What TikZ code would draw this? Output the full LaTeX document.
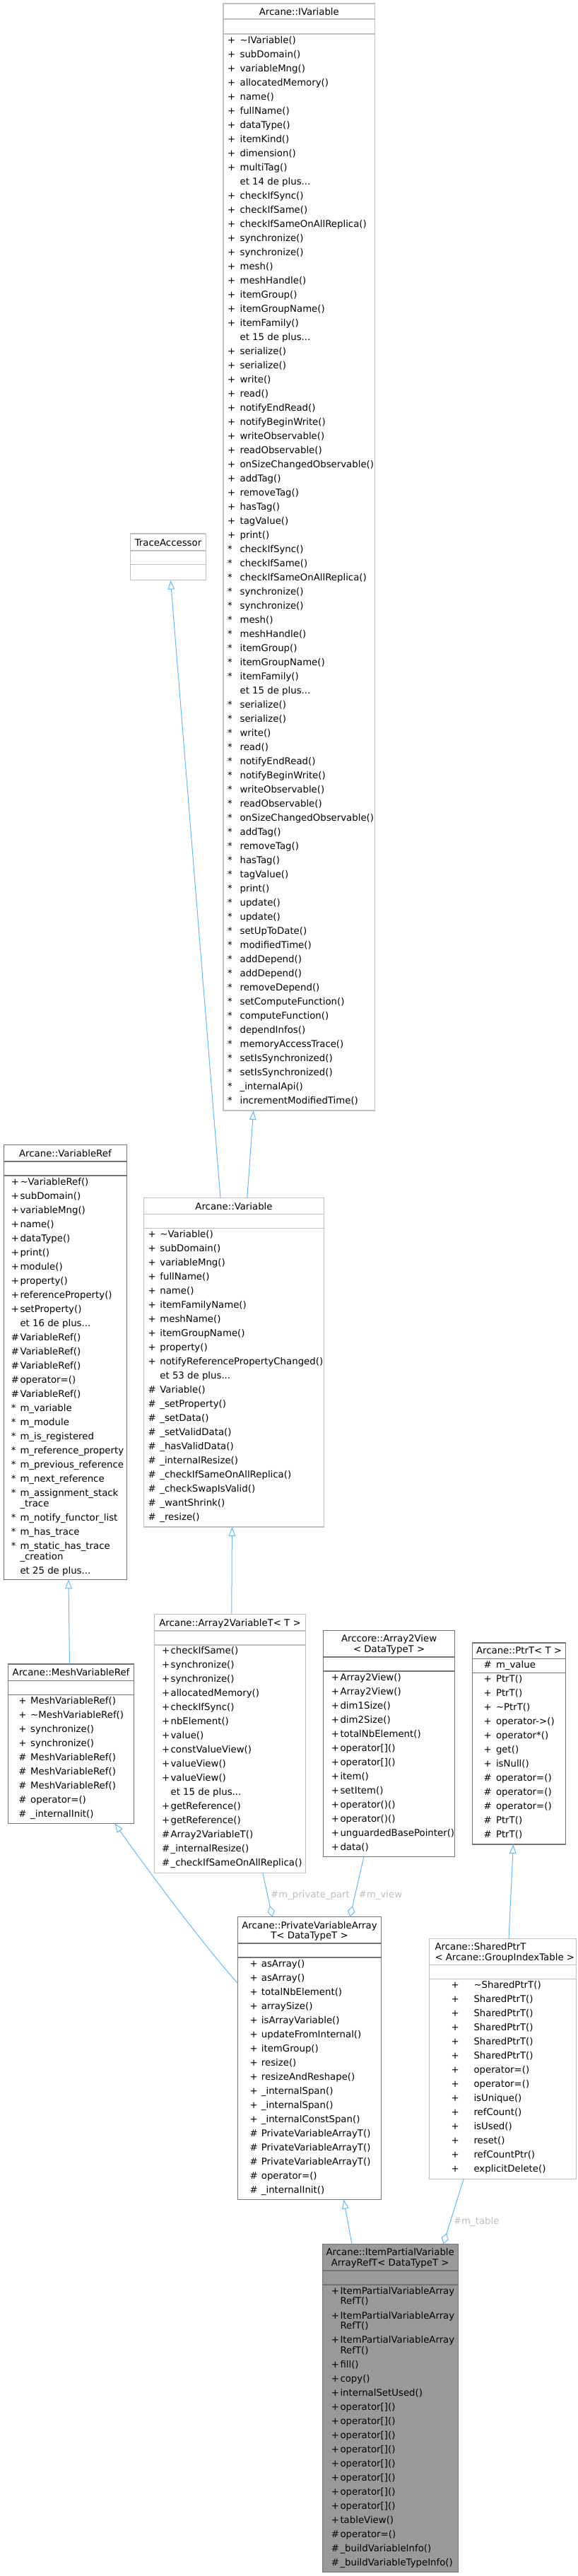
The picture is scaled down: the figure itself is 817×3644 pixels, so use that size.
\documentclass[tikz,border=0pt]{standalone}
\usepackage{fontspec}
\setmainfont{DejaVu Sans}
\usetikzlibrary{arrows.meta}
\definecolor{edgeblue}{HTML}{63B8FF}
\definecolor{darkb}{HTML}{737373}
\definecolor{lightb}{HTML}{BFBFBF}
\definecolor{hlfill}{HTML}{999999}
\definecolor{lblgray}{HTML}{BEBEBE}
\newcommand\rowfont{\fontsize{13.3}{16}\selectfont}
\newcommand\tdots{...}
\newcommand\rowlist[5]{%
  \foreach \sy/\tx [count=\i from 0] in {#5}{%
    \node[rowtxt] (#1-s\i) at (#2,{#4+4.6+\i*20}) {\sy};
    \node[rowtxt] (#1-t\i) at (#3,{#4+4.6+\i*20}) {\tx};
  }%
}
\newcommand\onerow[6]{%
  \node[rowtxt] (#1-s) at (#2,{#4+4.6}) {#5};
  \node[rowtxt] (#1-t) at (#3,{#4+4.6}) {#6};
}
\newcommand\sepl[4]{\draw[draw=#1, line width=1.1pt] (#2,#4) -- (#3,#4);}
\tikzset{
  boxd/.style={draw=darkb, fill=white, line width=1.1pt, anchor=north west, inner sep=0pt, outer sep=0pt},
  boxl/.style={boxd, draw=lightb},
  boxh/.style={boxd, fill=hlfill},
  rowtxt/.style={anchor=base west, inner sep=0pt, font=\rowfont, text=black},
  ttl/.style={anchor=base, inner sep=0pt, font=\rowfont, text=black},
  ttll/.style={anchor=base west, inner sep=0pt, font=\rowfont, text=black},
  inh/.style={draw=edgeblue, line width=1pt, -{Triangle[open, length=13pt, width=9.5pt]}},
  agg/.style={draw=edgeblue, line width=1pt, -{Diamond[open, length=16pt, width=10.5pt]}},
  elabel/.style={anchor=base, inner sep=0pt, font=\rowfont, text=lblgray},
}
\begin{document}
\begin{tikzpicture}[x=1pt,y=-1pt]
\useasboundingbox (0,0) rectangle (817,3644);
\fill[white] (0,0) rectangle (817,3644);

% ---------- Arcane::IVariable
\node[boxl, minimum width=214.5pt, minimum height=1566pt] (ivar) at (316,5) {};
\sepl{lightb}{316}{530.5}{27}
\sepl{lightb}{316}{530.5}{48}
\node[ttl] (ivar-title) at (423.3,21.3) {Arcane::IVariable};
\rowlist{ivar}{322}{339.4}{56.7}{+/\textasciitilde IVariable(), +/subDomain(), +/variableMng(), +/allocatedMemory(), +/name(), +/fullName(), +/dataType(), +/itemKind(), +/dimension(), +/multiTag(), /et 14 de plus\tdots, +/checkIfSync(), +/checkIfSame(), +/checkIfSameOnAllReplica(), +/synchronize(), +/synchronize(), +/mesh(), +/meshHandle(), +/itemGroup(), +/itemGroupName(), +/itemFamily(), /et 15 de plus\tdots, +/serialize(), +/serialize(), +/write(), +/read(), +/notifyEndRead(), +/notifyBeginWrite(), +/writeObservable(), +/readObservable(), +/onSizeChangedObservable(), +/addTag(), +/removeTag(), +/hasTag(), +/tagValue(), +/print(), */checkIfSync(), */checkIfSame(), */checkIfSameOnAllReplica(), */synchronize(), */synchronize(), */mesh(), */meshHandle(), */itemGroup(), */itemGroupName(), */itemFamily(), /et 15 de plus\tdots, */serialize(), */serialize(), */write(), */read(), */notifyEndRead(), */notifyBeginWrite(), */writeObservable(), */readObservable(), */onSizeChangedObservable(), */addTag(), */removeTag(), */hasTag(), */tagValue(), */print(), */update(), */update(), */setUpToDate(), */modifiedTime(), */addDepend(), */addDepend(), */removeDepend(), */setComputeFunction(), */computeFunction(), */dependInfos(), */memoryAccessTrace(), */setIsSynchronized(), */setIsSynchronized(), */\_internalApi(), */incrementModifiedTime()}

% ---------- TraceAccessor
\node[boxl, minimum width=107.4pt, minimum height=65.7pt] (trace) at (184.3,755) {};
\sepl{lightb}{184.3}{291.7}{779}
\sepl{lightb}{184.3}{291.7}{798.7}
\node[ttl] (trace-title) at (238,772.3) {TraceAccessor};

% ---------- Arcane::VariableRef
\node[boxd, minimum width=174.4pt, minimum height=614.6pt] (vref) at (5.2,1619.7) {};
\sepl{darkb}{5.2}{179.6}{1643}
\sepl{darkb}{5.2}{179.6}{1663}
\node[ttl] (vref-title) at (92.4,1636.6) {Arcane::VariableRef};
\rowlist{vref}{15.7}{28.3}{1672}{+/\textasciitilde VariableRef(), +/subDomain(), +/variableMng(), +/name(), +/dataType(), +/print(), +/module(), +/property(), +/referenceProperty(), +/setProperty(), /et 16 de plus\tdots, \#/VariableRef(), \#/VariableRef(), \#/VariableRef(), \#/operator=(), \#/VariableRef(), */m\_variable, */m\_module, */m\_is\_registered, */m\_reference\_property, */m\_previous\_reference, */m\_next\_reference}
\onerow{vref-a}{15.7}{28.3}{2112.3}{*}{m\_assignment\_stack}
\onerow{vref-b}{15.7}{28.3}{2126.7}{}{\_trace}
\onerow{vref-c}{15.7}{28.3}{2146.7}{*}{m\_notify\_functor\_list}
\onerow{vref-d}{15.7}{28.3}{2166.7}{*}{m\_has\_trace}
\onerow{vref-e}{15.7}{28.3}{2186.7}{*}{m\_static\_has\_trace}
\onerow{vref-f}{15.7}{28.3}{2201.7}{}{\_creation}
\onerow{vref-g}{15.7}{28.3}{2221.7}{}{et 25 de plus\tdots}

% ---------- Arcane::Variable
\node[boxl, minimum width=254.5pt, minimum height=465.3pt] (var) at (203.7,1694.7) {};
\sepl{lightb}{203.7}{458.2}{1717.7}
\sepl{lightb}{203.7}{458.2}{1737.7}
\node[ttl] (var-title) at (331,1711.3) {Arcane::Variable};
\rowlist{var}{209.5}{226.2}{1746.3}{+/\textasciitilde Variable(), +/subDomain(), +/variableMng(), +/fullName(), +/name(), +/itemFamilyName(), +/meshName(), +/itemGroupName(), +/property(), +/notifyReferencePropertyChanged(), /et 53 de plus\tdots, \#/Variable(), \#/\_setProperty(), \#/\_setData(), \#/\_setValidData(), \#/\_hasValidData(), \#/\_internalResize(), \#/\_checkIfSameOnAllReplica(), \#/\_checkSwapIsValid(), \#/\_wantShrink(), \#/\_resize()}

% ---------- Arcane::MeshVariableRef
\node[boxd, minimum width=178.1pt, minimum height=225.3pt] (mvr) at (11.5,2354) {};
\sepl{darkb}{11.5}{189.6}{2377.3}
\sepl{darkb}{11.5}{189.6}{2397.3}
\node[ttl] (mvr-title) at (100.5,2370.3) {Arcane::MeshVariableRef};
\rowlist{mvr}{26.2}{43}{2406.3}{+/MeshVariableRef(), +/\textasciitilde MeshVariableRef(), +/synchronize(), +/synchronize(), \#/MeshVariableRef(), \#/MeshVariableRef(), \#/MeshVariableRef(), \#/operator=(), \#/\_internalInit()}

% ---------- Arcane::Array2VariableT< T >
\node[boxl, minimum width=214.2pt, minimum height=365.6pt] (a2v) at (218.4,2283.7) {};
\sepl{lightb}{218.4}{432.6}{2307}
\sepl{lightb}{218.4}{432.6}{2327}
\node[ttl] (a2v-title) at (325.5,2300.3) {Arcane::Array2VariableT< T >};
\rowlist{a2v}{228.9}{241.4}{2335.3}{+/checkIfSame(), +/synchronize(), +/synchronize(), +/allocatedMemory(), +/checkIfSync(), +/nbElement(), +/value(), +/constValueView(), +/valueView(), +/valueView(), /et 15 de plus\tdots, +/getReference(), +/getReference(), \#/Array2VariableT(), \#/\_internalResize(), \#/\_checkIfSameOnAllReplica()}

% ---------- Arccore::Array2View< DataTypeT >
\node[boxd, minimum width=185.9pt, minimum height=320pt] (a2view) at (457.7,2306.7) {};
\sepl{darkb}{457.7}{643.6}{2344}
\sepl{darkb}{457.7}{643.6}{2364}
\node[ttl] (a2view-title1) at (550.6,2322.9) {Arccore::Array2View};
\node[ttl] (a2view-title2) at (550.6,2337.3) {< DataTypeT >};
\rowlist{a2view}{468.7}{481.3}{2372.7}{+/Array2View(), +/Array2View(), +/dim1Size(), +/dim2Size(), +/totalNbElement(), +/operator[](), +/operator[](), +/item(), +/setItem(), +/operator()(), +/operator()(), +/unguardedBasePointer(), +/data()}

% ---------- Arcane::PtrT< T >
\node[boxd, minimum width=131.4pt, minimum height=285pt] (ptr) at (668.8,2324) {};
\sepl{darkb}{668.8}{800.2}{2346.3}
\sepl{darkb}{668.8}{800.2}{2366.3}
\node[ttl] (ptr-title) at (734.5,2339.9) {Arcane::PtrT< T >};
\onerow{ptr-attr}{684.5}{701.8}{2355.3}{\#}{m\_value}
\rowlist{ptr}{684.5}{701.8}{2375.3}{+/PtrT(), +/PtrT(), +/\textasciitilde PtrT(), +/operator->(), +/operator*(), +/get(), +/isNull(), \#/operator=(), \#/operator=(), \#/operator=(), \#/PtrT(), \#/PtrT()}

% ---------- Arcane::PrivateVariableArrayT< DataTypeT >
\node[boxd, minimum width=202.7pt, minimum height=400pt] (pva) at (336.7,2711.7) {};
\sepl{darkb}{336.7}{539.4}{2749}
\sepl{darkb}{336.7}{539.4}{2769}
\node[ttl] (pva-title1) at (438,2728.3) {Arcane::PrivateVariableArray};
\node[ttl] (pva-title2) at (438,2742.3) {T< DataTypeT >};
\rowlist{pva}{353.5}{369.7}{2778.3}{+/asArray(), +/asArray(), +/totalNbElement(), +/arraySize(), +/isArrayVariable(), +/updateFromInternal(), +/itemGroup(), +/resize(), +/resizeAndReshape(), +/\_internalSpan(), +/\_internalSpan(), +/\_internalConstSpan(), \#/PrivateVariableArrayT(), \#/PrivateVariableArrayT(), \#/PrivateVariableArrayT(), \#/operator=(), \#/\_internalInit()}

% ---------- Arcane::SharedPtrT< Arcane::GroupIndexTable >
\node[boxl, minimum width=207.9pt, minimum height=339.6pt] (sptr) at (607.5,2742.7) {};
\sepl{lightb}{607.5}{815.4}{2779.3}
\sepl{lightb}{607.5}{815.4}{2799.3}
\node[ttll] (sptr-title1) at (615.3,2758.9) {Arcane::SharedPtrT};
\node[ttll] (sptr-title2) at (615.3,2773.3) {< Arcane::GroupIndexTable >};
\rowlist{sptr}{638.4}{670.3}{2808.3}{+/\textasciitilde SharedPtrT(), +/SharedPtrT(), +/SharedPtrT(), +/SharedPtrT(), +/SharedPtrT(), +/SharedPtrT(), +/operator=(), +/operator=(), +/isUnique(), +/refCount(), +/isUsed(), +/reset(), +/refCountPtr(), +/explicitDelete()}

% ---------- Arcane::ItemPartialVariableArrayRefT< DataTypeT >
\node[boxh, minimum width=192.2pt, minimum height=464pt] (ipv) at (456.1,3174.3) {};
\sepl{darkb}{456.1}{648.3}{3212}
\sepl{darkb}{456.1}{648.3}{3232}
\node[ttl] (ipv-title1) at (552.2,3190.9) {Arcane::ItemPartialVariable};
\node[ttl] (ipv-title2) at (552.2,3205.3) {ArrayRefT< DataTypeT >};
\onerow{ipv-a1}{468.7}{481.3}{3241}{+}{ItemPartialVariableArray}
\onerow{ipv-a2}{468.7}{481.3}{3255}{}{RefT()}
\onerow{ipv-b1}{468.7}{481.3}{3275.7}{+}{ItemPartialVariableArray}
\onerow{ipv-b2}{468.7}{481.3}{3290}{}{RefT()}
\onerow{ipv-c1}{468.7}{481.3}{3310.3}{+}{ItemPartialVariableArray}
\onerow{ipv-c2}{468.7}{481.3}{3324.7}{}{RefT()}
\rowlist{ipv}{468.7}{481.3}{3345}{+/fill(), +/copy(), +/internalSetUsed(), +/operator[](), +/operator[](), +/operator[](), +/operator[](), +/operator[](), +/operator[](), +/operator[](), +/operator[](), +/tableView(), \#/operator=(), \#/\_buildVariableInfo(), \#/\_buildVariableTypeInfo()}

% ---------- connectors
\draw[inh] ([xshift=108.3pt]var.north west) -- ([xshift=57.1pt]trace.south west);
\draw[inh] ([xshift=146.1pt]var.north west) -- ([xshift=42.7pt]ivar.south west);
\draw[inh] ([xshift=87pt]mvr.north west) -- ([xshift=91.7pt]vref.south west);
\draw[inh] ([xshift=109.4pt]a2v.north west) -- ([xshift=124.7pt]var.south west);
\draw[inh] ([yshift=-94.3pt]pva.north west) .. controls (283.7,2746) and (208,2644) .. ([xshift=150.8pt]mvr.south west);
\draw[inh] ([xshift=112.5pt]sptr.north west) -- ([xshift=57.6pt]ptr.south west);
\draw[inh] ([xshift=41.9pt]ipv.north west) -- ([xshift=149.8pt]pva.south west);
\draw[agg] ([xshift=153.4pt]a2v.south west) -- ([xshift=48.7pt]pva.north west);
\draw[agg] ([xshift=57.1pt]a2view.south west) -- ([xshift=158.7pt]pva.north west);
\draw[agg] ([xshift=48.7pt]sptr.south west) -- ([xshift=171.3pt]ipv.north west);
\node[elabel] (lbl-priv) at (439,2684.3) {\#m\_private\_part};
\node[elabel] (lbl-view) at (538.5,2684.3) {\#m\_view};
\node[elabel] (lbl-table) at (674.3,3146.9) {\#m\_table};
\end{tikzpicture}
\end{document}
